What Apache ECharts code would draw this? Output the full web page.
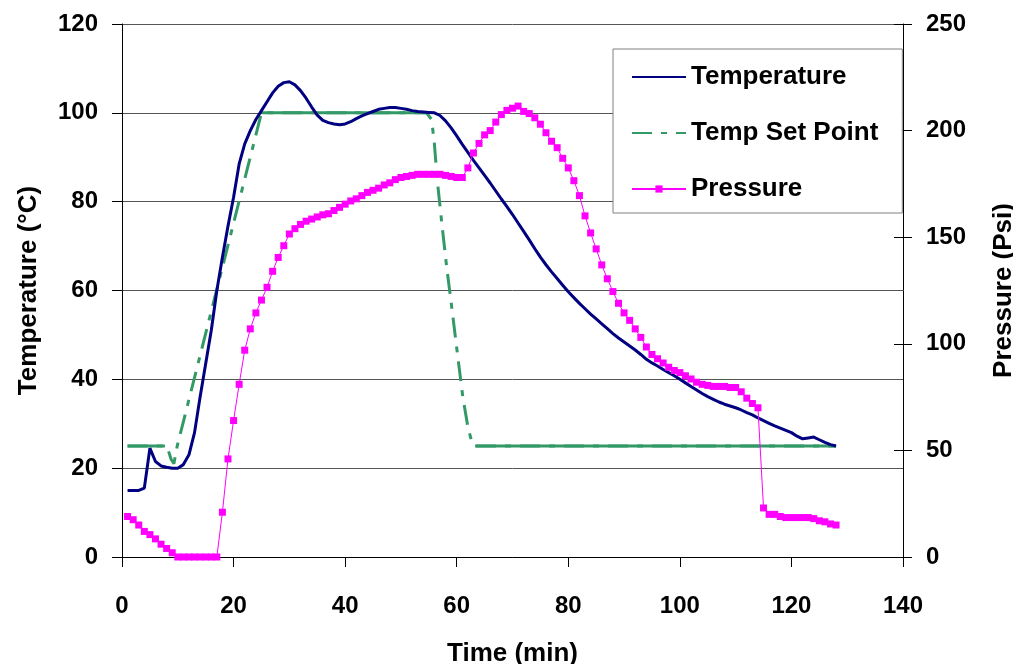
<!DOCTYPE html>
<html>
<head>
<meta charset="utf-8">
<title>Temperature / Pressure</title>
<script src="https://cdn.jsdelivr.net/npm/echarts@6/dist/echarts.min.js"></script>
<style>
  html, body { margin: 0; padding: 0; background: #fff; }
  #chart { width: 1013px; height: 664px; }
</style>
</head>
<body>
<div id="chart"></div>
<script>
  // sample times (min) shared by temperature and pressure
  var minutes = [1, 2, 3, 4, 5, 6, 7, 8, 9, 10, 11, 12, 13, 14, 15, 16, 17, 18, 19, 20,
    21, 22, 23, 24, 25, 26, 27, 28, 29, 30, 31, 32, 33, 34, 35, 36, 37, 38, 39, 40,
    41, 42, 43, 44, 45, 46, 47, 48, 49, 50, 51, 52, 53, 54, 55, 56, 57, 58, 59, 60,
    61, 62, 63, 64, 65, 66, 67, 68, 69, 70, 71, 72, 73, 74, 75, 76, 77, 78, 79, 80,
    81, 82, 83, 84, 85, 86, 87, 88, 89, 90, 91, 92, 93, 94, 95, 96, 97, 98, 99, 100,
    101, 102, 103, 104, 105, 106, 107, 108, 109, 110, 111, 112, 113, 114, 115, 116, 117, 118, 119, 120,
    121, 122, 123, 124, 125, 126, 127, 128];

  var temperature = [15, 15, 15, 15.5, 24.5, 21.5, 20.5, 20.2, 20, 20, 20.8, 23, 28, 36, 43.5, 51, 60, 67.5, 74.5, 81,
    88.5, 93, 96, 98.5, 100.5, 102.5, 104.5, 106, 106.8, 107, 106.3, 105, 103.3, 101.3, 99.5, 98.3, 97.8, 97.5, 97.3, 97.5,
    98, 98.7, 99.3, 99.8, 100.3, 100.8, 101, 101.2, 101.2, 101, 100.8, 100.5, 100.3, 100.2, 100.1, 100, 99.4, 98.2, 96.6, 94.8,
    92.9, 91.1, 89.3, 87.6, 85.9, 84.2, 82.4, 80.6, 78.9, 77.1, 75.2, 73.3, 71.4, 69.4, 67.5, 65.8, 64.2, 62.7, 61.2, 59.7,
    58.4, 57.1, 55.9, 54.7, 53.6, 52.5, 51.4, 50.3, 49.3, 48.4, 47.5, 46.6, 45.6, 44.5, 43.7, 43, 42.2, 41.5, 40.8, 40,
    39.2, 38.4, 37.6, 36.8, 36.1, 35.5, 34.9, 34.4, 34, 33.6, 33.1, 32.5, 32, 31.3, 30.7, 30.1, 29.5, 29, 28.5, 28,
    27.2, 26.6, 26.8, 27, 26.4, 25.8, 25.3, 25];

  var pressure = [19, 17.5, 15, 12, 10.5, 8.5, 6, 4, 2, 0, 0, 0, 0, 0, 0, 0, 0, 21, 46, 64,
    81, 97, 107, 114.5, 120.5, 126.5, 134, 140.5, 146, 151.5, 154, 156, 157.5, 158.5, 159.5, 160.5, 161, 162.5, 164, 165.5,
    167, 168, 169.5, 171, 172, 173, 174.5, 175.5, 177, 178, 178.5, 179, 179.5, 179.5, 179.5, 179.5, 179.5, 179, 178.5, 178,
    178, 182.5, 189.5, 194, 198, 200, 204, 207.5, 209.5, 210.5, 211.5, 209, 208, 206, 203, 199, 195, 192, 187, 182.5,
    176.5, 169.5, 160, 152, 144.5, 137, 130.5, 124.5, 119, 114.5, 111, 107, 103, 98.5, 95, 93, 91, 89, 87.5, 86.5,
    85, 83.5, 82, 81, 80.5, 80, 80, 80, 79.5, 79.5, 77.5, 74.5, 72, 70, 23, 20, 20, 19, 18.5, 18.5,
    18.5, 18.5, 18.5, 18, 17, 16.5, 15.5, 15];

  // set point profile (corner points)
  var spTime = [1, 7.7, 8.3, 8.8, 9.3, 9.9, 25, 54.6, 55.5, 56, 56.5, 57.4, 58.2, 59.1, 60.2, 61.1, 62, 62.7, 63.3, 128];
  var spValue = [25, 25, 24, 22, 21, 25, 100, 100, 98.5, 93, 85, 74.3, 65.3, 56.3, 45, 36, 29.3, 25.9, 25, 25];
  // index pairs of the hold segments (drawn solid)
  var holdSegments = [[0, 1], [6, 7], [18, 19]];

  var xTicks = [0, 20, 40, 60, 80, 100, 120, 140];
  var tempTicks = [0, 20, 40, 60, 80, 100, 120];
  var pressTicks = [0, 50, 100, 150, 200, 250];

  var font = '"Liberation Sans", Arial, sans-serif';

  function pairs(xs, ys) {
    return xs.map(function (x, i) { return [x, ys[i]]; });
  }

  var holdData = [];
  holdSegments.forEach(function (seg, k) {
    if (k > 0) holdData.push([spTime[seg[0]], '-']);
    holdData.push([spTime[seg[0]], spValue[seg[0]]]);
    holdData.push([spTime[seg[1]], spValue[seg[1]]]);
  });

  var labelStyle = {color: '#000', fontFamily: font, fontWeight: 'bold', fontSize: 24};
  var nameStyle = {color: '#000', fontFamily: font, fontWeight: 'bold', fontSize: 26};

  var option = {
    animation: false,
    backgroundColor: '#fff',
    grid: {left: 122, right: 110, top: 24, bottom: 107, outerBoundsMode: 'none'},
    legend: {
      // plain lines in the legend, only Pressure keeps its marker
      data: [
        {name: 'Temperature', itemStyle: {opacity: 0}},
        {name: 'Temp Set Point', itemStyle: {opacity: 0}},
        {name: 'Pressure'}
      ],
      orient: 'vertical',
      left: 613,
      top: 49,
      padding: [13, 24, 9, 18],
      itemWidth: 54,
      itemHeight: 9,
      itemGap: 26,
      backgroundColor: '#fff',
      borderColor: '#808080',
      borderWidth: 1,
      textStyle: {color: '#000', fontFamily: font, fontWeight: 'bold', fontSize: 26, lineHeight: 30}
    },
    xAxis: {
      type: 'value',
      min: xTicks[0],
      max: xTicks[xTicks.length - 1],
      interval: 20,
      name: 'Time (min)',
      nameLocation: 'middle',
      nameGap: 84,
      nameTextStyle: nameStyle,
      axisLine: {lineStyle: {color: '#000', width: 1}},
      axisTick: {length: 10, lineStyle: {color: '#000'}},
      axisLabel: Object.assign({margin: 37}, labelStyle),
      splitLine: {show: false}
    },
    yAxis: [
      {
        type: 'value',
        position: 'left',
        min: tempTicks[0],
        max: tempTicks[tempTicks.length - 1],
        interval: 20,
        name: 'Temperature (°C)',
        nameLocation: 'middle',
        nameGap: 80,
        nameTextStyle: nameStyle,
        axisLine: {show: true, lineStyle: {color: '#000', width: 1}},
        axisTick: {show: true, length: 10, lineStyle: {color: '#000'}},
        axisLabel: Object.assign({margin: 24}, labelStyle),
        splitLine: {show: true, lineStyle: {color: '#555', width: 1}}
      },
      {
        type: 'value',
        position: 'right',
        min: pressTicks[0],
        max: pressTicks[pressTicks.length - 1],
        interval: 50,
        name: 'Pressure (Psi)',
        nameLocation: 'middle',
        nameGap: 88,
        nameTextStyle: nameStyle,
        axisLine: {show: true, lineStyle: {color: '#000', width: 1}},
        axisTick: {show: true, length: 9, lineStyle: {color: '#000'}},
        axisLabel: Object.assign({margin: 23}, labelStyle),
        splitLine: {show: false}
      },
      {
        // inner half of the crossing ticks on the right axis
        type: 'value',
        position: 'right',
        min: pressTicks[0],
        max: pressTicks[pressTicks.length - 1],
        interval: 50,
        axisLine: {show: false},
        axisTick: {show: true, inside: true, length: 9, lineStyle: {color: '#000'}},
        axisLabel: {show: false},
        splitLine: {show: false}
      }
    ],
    series: [
      {
        name: 'Temperature',
        type: 'line',
        yAxisIndex: 0,
        symbol: 'none',
        lineStyle: {color: '#000080', width: 3},
        itemStyle: {color: '#000080'},
        data: pairs(minutes, temperature),
        z: 3
      },
      {
        name: 'Temp Set Point',
        type: 'line',
        yAxisIndex: 0,
        symbol: 'none',
        lineStyle: {color: '#339966', width: 3, type: [20, 9, 6, 9]},
        itemStyle: {color: '#339966'},
        data: pairs(spTime, spValue),
        z: 2
      },
      {
        // flat parts of the set point look solid in the original
        name: 'setHold',
        type: 'line',
        yAxisIndex: 0,
        symbol: 'none',
        silent: true,
        lineStyle: {color: '#339966', width: 3},
        data: holdData,
        z: 2
      },
      {
        name: 'Pressure',
        type: 'line',
        yAxisIndex: 1,
        symbol: 'rect',
        symbolSize: 7,
        lineStyle: {color: '#FF00FF', width: 1},
        itemStyle: {color: '#FF00FF'},
        data: pairs(minutes, pressure),
        z: 4
      }
    ]
  };

  var myChart = echarts.init(document.getElementById('chart'), null, {renderer: 'canvas'});
  myChart.setOption(option);
</script>
</body>
</html>
